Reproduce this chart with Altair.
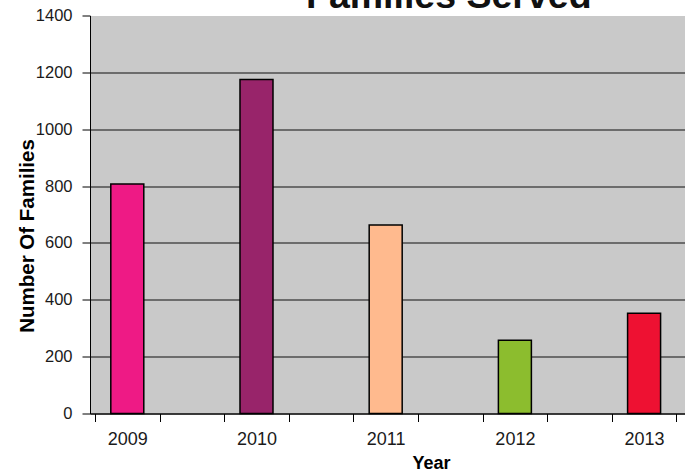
import altair as alt
import pandas as pd

title_text = "Families Served"
years = ["2009", "2010", "2011", "2012", "2013"]
families = [807, 1175, 663, 258, 353]
colors = ["#EE1A85", "#98246A", "#FFBA8E", "#8CBD2E", "#EE1132"]

df = pd.DataFrame({"year": years, "families": families})
# each year occupies every other category band of the original Excel axis
df["slot"] = [2 * i + 0.5 for i in range(len(years))]

label_expr = " : ".join(
    f"datum.value == {2 * i + 0.5} ? '{y}'" for i, y in enumerate(years)
) + " : ''"
x_values = [i / 2 for i in range(0, 19)]

x_axis = alt.Axis(
    values=x_values,
    labelExpr=label_expr,
    labelOverlap=False,
    labelFlush=False,
    labelFontSize=18,
    labelColor="#1a1a1a",
    labelPadding=9,
    tickSize=8,
    tickColor={"condition": {"test": "datum.value % 1 != 0", "value": "transparent"}, "value": "black"},
    domainColor="black",
    grid=False,
    title="Year",
    titleFontSize=18,
    titleFontWeight="bold",
    titleX=341,
    titleY=50,
    titleBaseline="middle",
    titleAlign="center",
)

y_axis = alt.Axis(
    values=list(range(0, 1401, 200)),
    format="d",
    labelFontSize=16.5,
    labelColor="#1a1a1a",
    labelPadding=10,
    tickSize=8,
    tickColor="black",
    domainColor="black",
    gridColor={"condition": {"test": "datum.value >= 1400", "value": "transparent"}, "value": "#4d4d4d"},
    gridWidth=1.3,
    title="Number Of Families",
    titleFontSize=20.5,
    titleFontWeight="bold",
    titleAngle=-90,
    titleX=-63,
    titleY=220,
    titleBaseline="middle",
    titleAlign="center",
)

bars = (
    alt.Chart(df)
    .mark_bar(size=33, stroke="black", strokeWidth=1.5)
    .encode(
        x=alt.X("slot:Q", scale=alt.Scale(domain=[0, 9.056], nice=False, zero=False), axis=x_axis),
        y=alt.Y("families:Q", scale=alt.Scale(domain=[0, 1400], nice=False), axis=y_axis),
        color=alt.Color("year:N", scale=alt.Scale(domain=years, range=colors), legend=None),
    )
)

title = (
    alt.Chart(pd.DataFrame({"t": [title_text]}))
    .mark_text(fontSize=37.5, fontWeight="bold", align="left", baseline="alphabetic", color="#111111")
    .encode(text="t:N", x=alt.value(216), y=alt.value(-8))
)

chart = (
    alt.layer(bars, title)
    .properties(
        width=595,
        height=398,
        padding={"left": 90, "top": 15.5, "right": 0, "bottom": 60.5},
        autosize=alt.AutoSizeParams(type="none"),
    )
    .configure(font="Liberation Sans", background="white")
    .configure_view(fill="#C9C9C9", stroke="transparent")
)

chart.save("out.html", embed_options={"renderer": "svg", "actions": False})
